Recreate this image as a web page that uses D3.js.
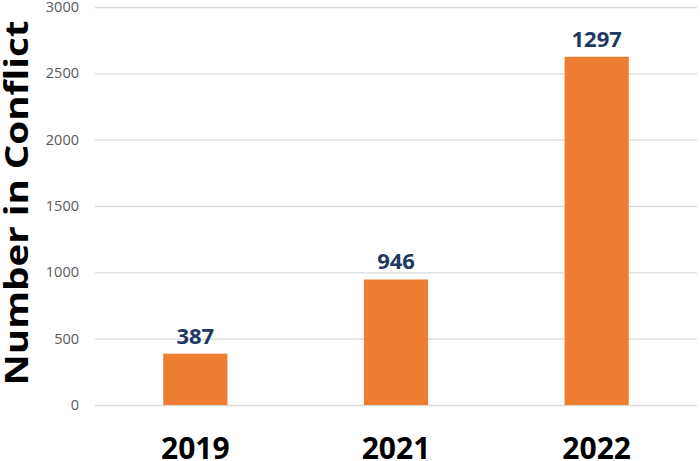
<!DOCTYPE html>
<html>
<head>
<meta charset="utf-8" />
<title>Number in Conflict</title>
<script src="https://d3js.org/d3.v7.min.js"></script>
<style>
  body { margin: 0; background: #fff; }
  text { font-family: "Open Sans", "Noto Sans", sans-serif; }
</style>
</head>
<body>
<svg id="viz"></svg>
<script>
// data (bar heights do not match the printed labels)
var years = ["2019", "2021", "2022"];
var barValues = [387, 946, 2625];
var valueLabels = ["387", "946", "1297"];
var yTicks = [0, 500, 1000, 1500, 2000, 2500, 3000];

var width = 700, height = 461;
var plotLeft = 95, plotRight = 697, plotTop = 7, plotBottom = 405;

var svg = d3.select("#viz")
  .attr("width", width)
  .attr("height", height);

var xScale = d3.scaleBand()
  .domain(years)
  .range([plotLeft, plotRight])
  .paddingInner(0.68)
  .paddingOuter(0.34);

var yScale = d3.scaleLinear()
  .domain([0, 3000])
  .range([plotBottom, plotTop]);

// gridlines + tick labels
var yAxis = d3.axisLeft(yScale)
  .tickValues(yTicks)
  .tickFormat(d3.format("d"))
  .tickSize(-(plotRight - plotLeft))
  .tickPadding(16);

var gy = svg.append("g")
  .attr("transform", "translate(" + plotLeft + ",0)")
  .call(yAxis);
gy.select(".domain").remove();
gy.selectAll(".tick line")
  .attr("stroke", "#d9d9d9")
  .attr("stroke-width", 1.3);
gy.selectAll(".tick text")
  .attr("fill", "#595959")
  .style("font-size", "14.5px");

// bars
svg.selectAll("rect.bar")
  .data(years)
  .enter().append("rect")
  .attr("class", "bar")
  .attr("x", function(d) { return xScale(d); })
  .attr("width", xScale.bandwidth())
  .attr("y", function(d, i) { return yScale(barValues[i]); })
  .attr("height", function(d, i) { return yScale(0) - yScale(barValues[i]); })
  .attr("fill", "#ED7D31");

// value labels
svg.selectAll("text.val")
  .data(years)
  .enter().append("text")
  .attr("class", "val")
  .attr("x", function(d) { return xScale(d) + xScale.bandwidth() / 2; })
  .attr("y", function(d, i) { return yScale(barValues[i]) - 10; })
  .attr("text-anchor", "middle")
  .attr("fill", "#203864")
  .style("font-size", "22px")
  .style("font-weight", "bold")
  .text(function(d, i) { return valueLabels[i]; });

// x category labels
var xAxis = d3.axisBottom(xScale).tickSize(0).tickPadding(0);
var gx = svg.append("g")
  .attr("transform", "translate(0," + plotBottom + ")")
  .call(xAxis);
gx.select(".domain").remove();
gx.selectAll(".tick text")
  .attr("dy", null)
  .attr("y", 54)
  .attr("fill", "#000")
  .style("font-size", "30px")
  .style("font-weight", "bold");

// y title
svg.append("text")
  .attr("transform", "translate(28,203) rotate(-90)")
  .attr("text-anchor", "middle")
  .attr("textLength", 365)
  .attr("lengthAdjust", "spacingAndGlyphs")
  .attr("fill", "#000")
  .style("font-size", "33px")
  .style("font-weight", "bold")
  .text("Number in Conflict");
</script>
</body>
</html>
